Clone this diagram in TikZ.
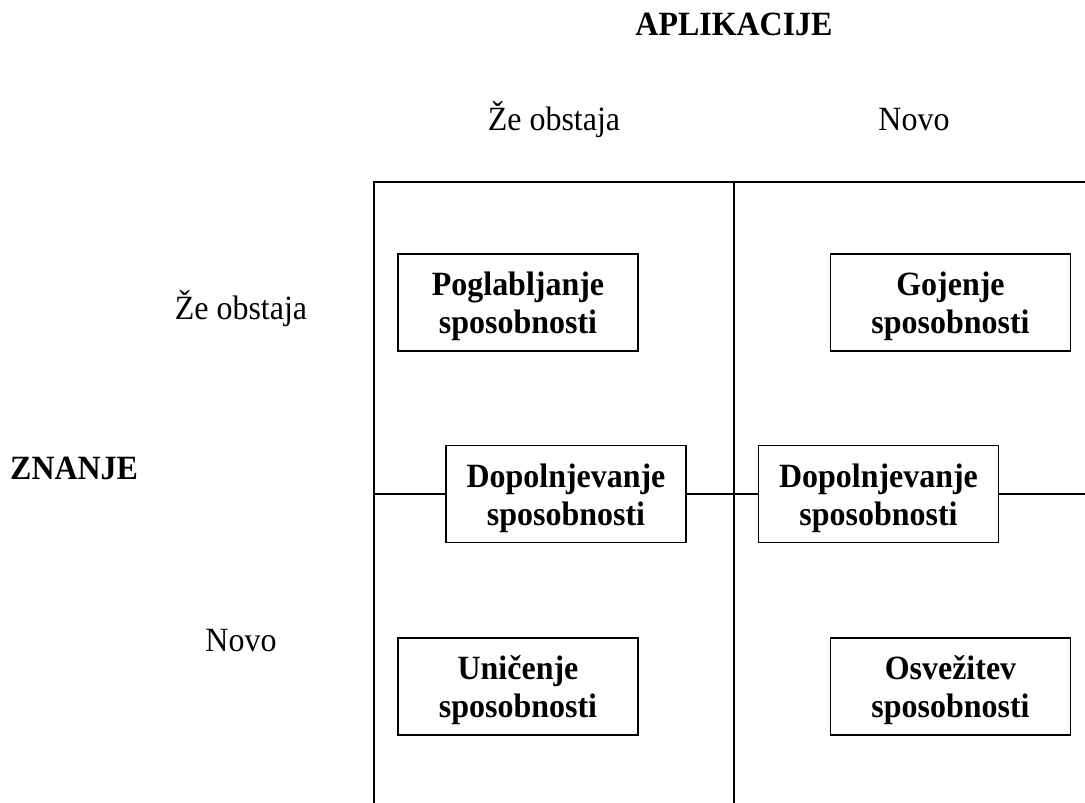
\documentclass[tikz,border=0pt]{standalone}
\usepackage{fontspec}
\setmainfont{Liberation Serif}[FakeStretch=0.94]
\begin{document}
\begin{tikzpicture}[x=1pt,y=-1pt,
  every node/.style={font=\fontsize{34}{38}\selectfont},
  quadbox/.style={draw, line width=1.5pt, minimum width=240pt, minimum height=97pt,
    inner sep=0pt},
  boxtext/.style={align=center, inner sep=0pt, yshift=-4pt,
    font=\fontsize{34}{38}\selectfont\bfseries},
  lbl/.style={inner sep=0pt, anchor=base},
  gridline/.style={line width=1.5pt}]
\useasboundingbox (0,0) rectangle (1085,803);
% grid anchor points
\coordinate (tl) at (374,182);
\coordinate (tm) at (734,182);
\coordinate (tr) at (1086,182);
\coordinate (bl) at (374,804);
\coordinate (bm) at (734,804);
\coordinate (ml) at (374,494);
\coordinate (mr) at (1086,494);
% boxes
\node[quadbox, label={[boxtext]center:{Poglabljanje\\sposobnosti}}] (pog) at (518,302.5) {};
\node[quadbox, label={[boxtext]center:{Gojenje\\sposobnosti}}] (goj) at (950.5,302.5) {};
\node[quadbox, label={[boxtext]center:{Dopolnjevanje\\sposobnosti}}] (dopl) at (566,494) {};
\node[quadbox, label={[boxtext]center:{Dopolnjevanje\\sposobnosti}}] (dopr) at (878.5,494) {};
\node[quadbox, label={[boxtext]center:{Uničenje\\sposobnosti}}] (uni) at (518,686.5) {};
\node[quadbox, label={[boxtext]center:{Osvežitev\\sposobnosti}}] (osv) at (950.5,686.5) {};
% grid lines
\draw[gridline] (bl) -- (tl) -- (tr);
\draw[gridline] (tm) -- (bm);
\draw[gridline] (ml) -- (dopl.west);
\draw[gridline] (dopl.east) -- (dopr.west);
\draw[gridline] (dopr.east) -- (mr);
% labels
\node[lbl, font=\fontsize{34}{38}\selectfont\bfseries] (apl) at (734,35) {APLIKACIJE};
\node[lbl] (tze) at (554,130) {Že obstaja};
\node[lbl] (tnovo) at (914,130) {Novo};
\node[lbl] (lze) at (241,319) {Že obstaja};
\node[lbl, anchor=base west, font=\fontsize{34}{38}\selectfont\bfseries] (zn) at (10,479) {ZNANJE};
\node[lbl] (lnovo) at (241,651) {Novo};
\end{tikzpicture}
\end{document}
